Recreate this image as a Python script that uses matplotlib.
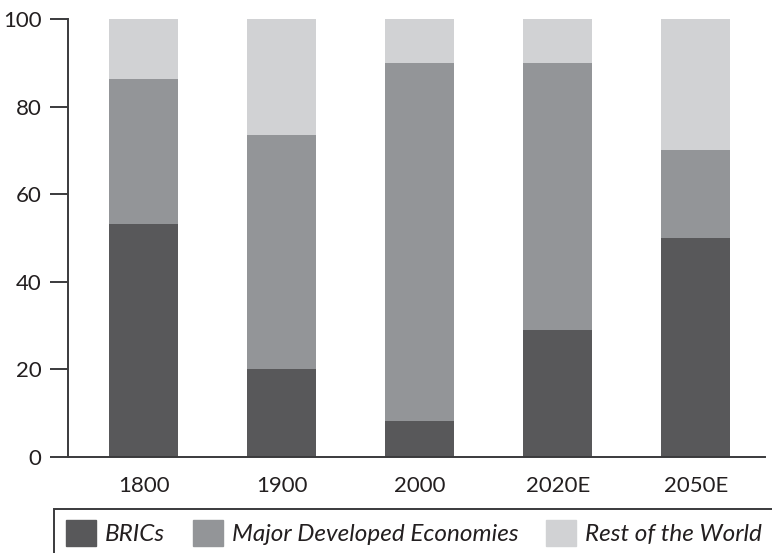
import matplotlib.pyplot as plt
from matplotlib.patches import Rectangle, Patch

plt.rcParams['font.family'] = ['Lato', 'DejaVu Sans']

years = ['1800', '1900', '2000', '2020E', '2050E']
brics = [53.2, 20.0, 8.2, 29.0, 50.0]
developed = [33.1, 53.5, 81.8, 61.0, 20.0]
rest = [13.7, 26.5, 10.0, 10.0, 30.0]

c_brics = '#58585a'
c_dev = '#939598'
c_rest = '#d1d2d4'
c_line = '#3a3a3c'
c_text = '#231f20'

fig = plt.figure(figsize=(7.72, 5.53), dpi=100)
ax = fig.add_axes([68 / 772, 1 - 457 / 553, (765 - 68) / 772, (457 - 19) / 553])

x = range(len(years))
w = 0.5
bottom2 = [a + b for a, b in zip(brics, developed)]
ax.bar(x, brics, w, color=c_brics, zorder=2)
ax.bar(x, developed, w, bottom=brics, color=c_dev, zorder=2)
ax.bar(x, rest, w, bottom=bottom2, color=c_rest, zorder=2)

ax.set_xlim(-0.547, 4.5)
ax.set_ylim(0, 100)
ax.set_yticks(range(0, 101, 20))
ax.set_xticks(list(x))
ax.set_xticklabels(years)

for s in ['top', 'right']:
    ax.spines[s].set_visible(False)
for s in ['left', 'bottom']:
    ax.spines[s].set_color(c_line)
    ax.spines[s].set_linewidth(1.4)
    ax.spines[s].set_zorder(3)
ax.tick_params(axis='y', length=13, width=1.4, color=c_line, labelsize=16,
               labelcolor=c_text, pad=6)
ax.tick_params(axis='x', length=0, labelsize=16, labelcolor=c_text, pad=14)

# legend box, open at right and bottom edges of the figure
fig.add_artist(Rectangle((54 / 772, -0.05), 1.0, 1 - 509 / 553 + 0.05,
                         transform=fig.transFigure, fill=False,
                         edgecolor=c_line, linewidth=1.4))
handles = [Patch(color=c_brics), Patch(color=c_dev), Patch(color=c_rest)]
leg = fig.legend(handles, ['BRICs', 'Major Developed Economies', 'Rest of the World'],
                 loc='center left', bbox_to_anchor=(66 / 772, 1 - 533 / 553), ncol=3,
                 frameon=False, prop={'size': 17.5, 'style': 'italic'},
                 handlelength=1.23, handleheight=1.23, handletextpad=0.37,
                 columnspacing=1.15, borderaxespad=0, borderpad=0)
for t in leg.get_texts():
    t.set_color(c_text)

fig.savefig('out.png', dpi=100)
